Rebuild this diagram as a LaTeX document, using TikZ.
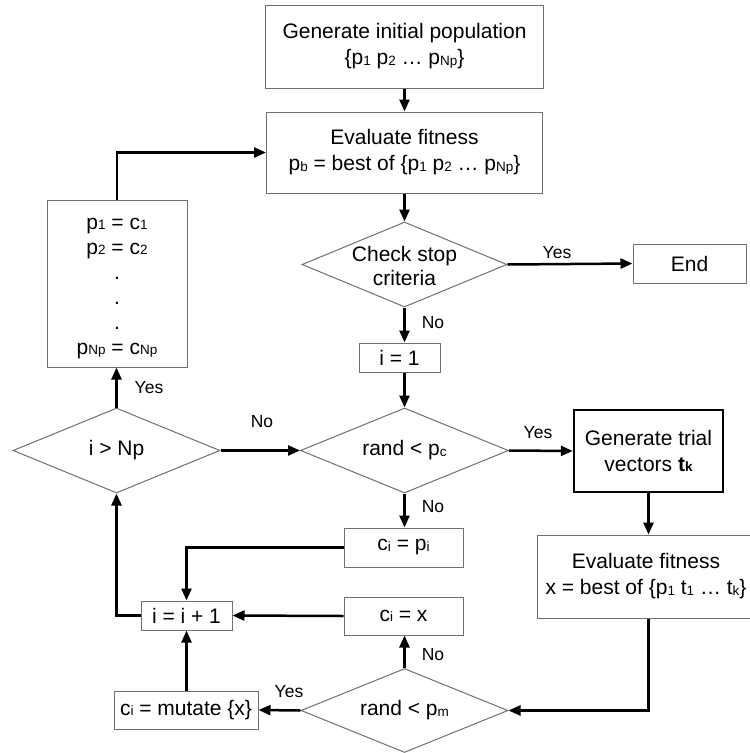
\documentclass[tikz,border=0pt]{standalone}
\usepackage{fontspec}
\setmainfont{Liberation Sans}
\usetikzlibrary{shapes.geometric,arrows.meta}
\definecolor{edgegray}{RGB}{112,112,112}
% small index set on the baseline, as in p1, cNp
\newcommand\sbs[1]{\raisebox{-0.5pt}{\fontsize{13.5}{13.5}\selectfont #1}}

\begin{document}
\begin{tikzpicture}[x=1pt,y=-1pt,
  every node/.style={font=\fontsize{21}{26}\selectfont, align=center, inner sep=0pt},
  procbox/.style={draw=edgegray, line width=1pt, rectangle},
  keybox/.style={draw=black, line width=2.4pt, rectangle},
  decision/.style={draw=edgegray, line width=1pt, diamond, inner sep=0pt},
  flow/.style={line width=2.5pt, -{Triangle[length=12pt,width=10pt]}},
  tag/.style={font=\fontsize{17.5}{20}\selectfont}
]
\useasboundingbox (0,0) rectangle (750,753);

% main column
\node[procbox, minimum width=278pt, minimum height=83pt] (gen) at (404.5,46.5)
  {Generate initial population\\\{p\sbs{1} p\sbs{2} … p\sbs{Np}\}};
\node[procbox, minimum width=276pt, minimum height=81pt] (evalA) at (404.5,152.5)
  {Evaluate fitness\\p\sbs{b} = best of \{p\sbs{1} p\sbs{2} … p\sbs{Np}\}};
\node[decision, minimum width=205pt, minimum height=85pt] (check) at (404.5,264.5) {};
\node[font=\fontsize{21}{24}\selectfont] (checktxt) at (404.5,266) {Check stop\\criteria};
\node[procbox, minimum width=113pt, minimum height=39pt] (endb) at (689.5,263.5) {End};
\node[procbox, minimum width=81pt, minimum height=29pt] (ione) at (399.5,357.5) {i = 1};
\node[decision, minimum width=208pt, minimum height=85pt] (randpc) at (404.5,450.5) {};
\node (randpctxt) at (randpc.center) {rand < p\sbs{c}};
\node[procbox, minimum width=119pt, minimum height=39pt] (cp) at (403.5,547.5) {c\sbs{i} = p\sbs{i}};
\node[procbox, minimum width=119pt, minimum height=38pt] (cx) at (403.5,616) {c\sbs{i} = x};
\node[decision, minimum width=207pt, minimum height=84pt] (randpm) at (404.5,710.5) {};
\node (randpmtxt) at (randpm.center) {rand < p\sbs{m}};

% right branch; the fitness box runs past the right edge of the page
\node[keybox, minimum width=149pt, minimum height=82pt] (trial) at (648.5,451)
  {Generate trial\\vectors \textbf{t\sbs{k}}};
\node[procbox, minimum width=218pt, minimum height=83pt] (evalB) at (646,576.5)
  {Evaluate fitness\\x = best of \{p\sbs{1} t\sbs{1} … t\sbs{k}\}};

% left loop
\node[procbox, minimum width=91pt, minimum height=29pt] (inc) at (186.5,615.5) {i = i + 1};
\node[procbox, minimum width=144pt, minimum height=38pt] (mut) at (186,710) {c\sbs{i} = mutate \{x\}};
\node[decision, minimum width=207pt, minimum height=85pt] (inp) at (116.5,450.5) {};
\node (inptxt) at (inp.center) {i > Np};
\node[procbox, minimum width=140pt, minimum height=167pt] (pbox) at (117,283.5) {};
\node[font=\fontsize{21}{25}\selectfont] (pboxtxt) at (117,288.5)
  {p\sbs{1} = c\sbs{1}\\p\sbs{2} = c\sbs{2}\\.\\.\\.\\p\sbs{Np} = c\sbs{Np}};

% connectors
\draw[flow] (gen.south) -- (evalA.north);
\draw[flow] (evalA.south) -- (check.north);
\draw[flow] (check.east) -- (endb.west);
\draw[flow] (check.south) -- (check.south |- ione.north);
\draw[flow] (check.south |- ione.south) -- (randpc.north);
\draw[flow] (randpc.east) -- (trial.west);
\draw[flow] (trial.south) -- (trial.south |- evalB.north);
\draw[flow] (trial.south |- evalB.south) |- (randpm.east);
\draw[flow] (randpm.north) -- (randpm.north |- cx.south);
\draw[flow] (randpm.west) -- (mut.east);
\draw[flow] (mut.north -| inc.south) -- (inc.south);
\draw[flow] (cx.west) -- (inc.east);
\draw[flow] (randpc.south) -- (randpc.south |- cp.north);
\draw[flow] (cp.west) -| (inc.north);
\draw[flow] (inc.west) -| (inp.south);
\draw[flow] (inp.east) -- (randpc.west);
\draw[flow] (inp.north) -- (inp.north |- pbox.south);
\draw[flow] (pbox.north) |- (evalA.west);

% branch labels
\node[tag] (yesend) at (557,253) {Yes};
\node[tag] (nostop) at (433,323) {No};
\node[tag] (yestrial) at (538,433) {Yes};
\node[tag] (nocross) at (433,507) {No};
\node[tag] (noloop) at (262,422) {No};
\node[tag] (yesdone) at (149,388) {Yes};
\node[tag] (yesmut) at (289,692) {Yes};
\node[tag] (nomut) at (433,655) {No};
\end{tikzpicture}
\end{document}
